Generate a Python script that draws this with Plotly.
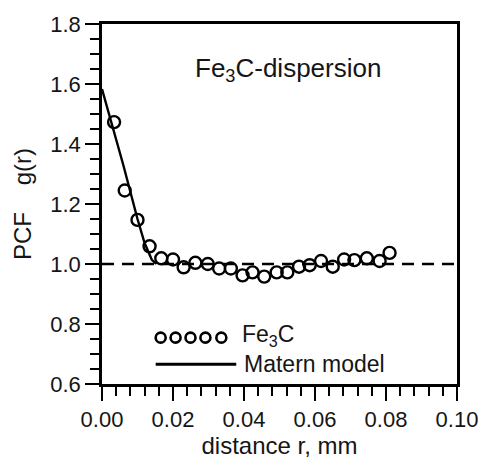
import plotly.graph_objects as go

# Data
r_obs = [0.0034, 0.0064, 0.0100, 0.0134, 0.0167, 0.0200, 0.0230, 0.0263, 0.0298,
         0.0330, 0.0363, 0.0396, 0.0424, 0.0457, 0.0492, 0.0522, 0.0555, 0.0585,
         0.0617, 0.0650, 0.0682, 0.0711, 0.0746, 0.0782, 0.0810]
g_obs = [1.473, 1.245, 1.147, 1.059, 1.019, 1.015, 0.989, 1.004, 1.000,
         0.985, 0.985, 0.962, 0.972, 0.958, 0.972, 0.972, 0.991, 0.996,
         1.010, 0.991, 1.015, 1.013, 1.019, 1.010, 1.037]
r_model = [0.0, 0.002, 0.004, 0.006, 0.008, 0.010, 0.012, 0.014, 0.0153]
g_model = [1.583, 1.50, 1.42, 1.33, 1.24, 1.15, 1.07, 1.015, 1.0]
r_ref = [0.0, 0.1]
g_ref = [1.0, 1.0]

x_ticks = [0.00, 0.02, 0.04, 0.06, 0.08, 0.10]
x_ticklabels = ["0.00", "0.02", "0.04", "0.06", "0.08", "0.10"]
y_ticks = [0.6, 0.8, 1.0, 1.2, 1.4, 1.6, 1.8]
y_ticklabels = ["0.6", "0.8", "1.0", "1.2", "1.4", "1.6", "1.8"]

FONT = "Liberation Sans, Arial, sans-serif"
TXT = "#151515"

W, H = 490, 466
L, R, T, B = 102, 31, 24, 77
pw, ph = W - L - R, H - T - B


def px2paper(px, py):
    return (px - L) / pw, (H - B - py) / ph


fig = go.Figure()
fig.add_trace(go.Scatter(x=r_ref, y=g_ref, mode="lines",
                         line=dict(color="black", width=2.6, dash="12px,8px"),
                         showlegend=False, hoverinfo="skip"))
fig.add_trace(go.Scatter(x=r_model, y=g_model, mode="lines",
                         line=dict(color="black", width=2.4),
                         showlegend=False))
fig.add_trace(go.Scatter(x=r_obs, y=g_obs, mode="markers",
                         marker=dict(symbol="circle-open", size=12,
                                     color="black", line=dict(width=2.4)),
                         showlegend=False))

axis_common = dict(showline=True, linecolor="black", linewidth=2.5, mirror=True,
                   showgrid=False, zeroline=False, ticks="outside",
                   tickcolor="black", tickwidth=2, ticklen=14,
                   tickfont=dict(family=FONT, size=22, color=TXT),
                   title_font=dict(family=FONT, size=24, color=TXT))

fig.update_xaxes(range=[0, 0.1], tickvals=x_ticks, ticktext=x_ticklabels,
                 minor=dict(ticks="outside", ticklen=9, tickwidth=2,
                            tickcolor="black", dtick=0.004, tick0=0),
                 title_text="distance r, mm", title_standoff=5, **axis_common)
fig.update_yaxes(range=[0.6, 1.8], tickvals=y_ticks, ticktext=y_ticklabels,
                 minor=dict(ticks="outside", ticklen=9, tickwidth=2,
                            tickcolor="black", dtick=0.05, tick0=0),
                 title_text="PCF    g(r)", title_standoff=12, **axis_common)

shapes = []
for cx in [161, 176, 191, 206, 222]:
    ax, ay = px2paper(cx, 342)
    shapes.append(dict(type="circle", xref="paper", yref="paper",
                       xsizemode="pixel", ysizemode="pixel",
                       xanchor=ax, yanchor=ay, x0=-5, x1=5, y0=-5, y1=5,
                       line=dict(color="black", width=2.6)))
lx0, ly = px2paper(156, 369)
lx1, _ = px2paper(237, 369)
shapes.append(dict(type="line", xref="paper", yref="paper", x0=lx0, x1=lx1,
                   y0=ly, y1=ly, line=dict(color="black", width=2.8)))

annotations = []
tx, ty = px2paper(241, 340)
annotations.append(dict(xref="paper", yref="paper", x=tx, y=ty, xanchor="left",
                        yanchor="middle", showarrow=False,
                        text="Fe<sub>3</sub>C",
                        font=dict(family=FONT, size=23, color=TXT)))
tx, ty = px2paper(243, 369)
annotations.append(dict(xref="paper", yref="paper", x=tx, y=ty, xanchor="left",
                        yanchor="middle", showarrow=False,
                        text="Matern model",
                        font=dict(family=FONT, size=23, color=TXT)))
tx, ty = px2paper(289, 70)
annotations.append(dict(xref="paper", yref="paper", x=tx, y=ty, xanchor="center",
                        yanchor="middle", showarrow=False,
                        text="Fe<sub>3</sub>C-dispersion",
                        font=dict(family=FONT, size=26, color=TXT)))

fig.update_layout(width=W, height=H, margin=dict(l=L, r=R, t=T, b=B),
                  plot_bgcolor="white", paper_bgcolor="white",
                  shapes=shapes, annotations=annotations, showlegend=False)

fig.write_html("out.html")
